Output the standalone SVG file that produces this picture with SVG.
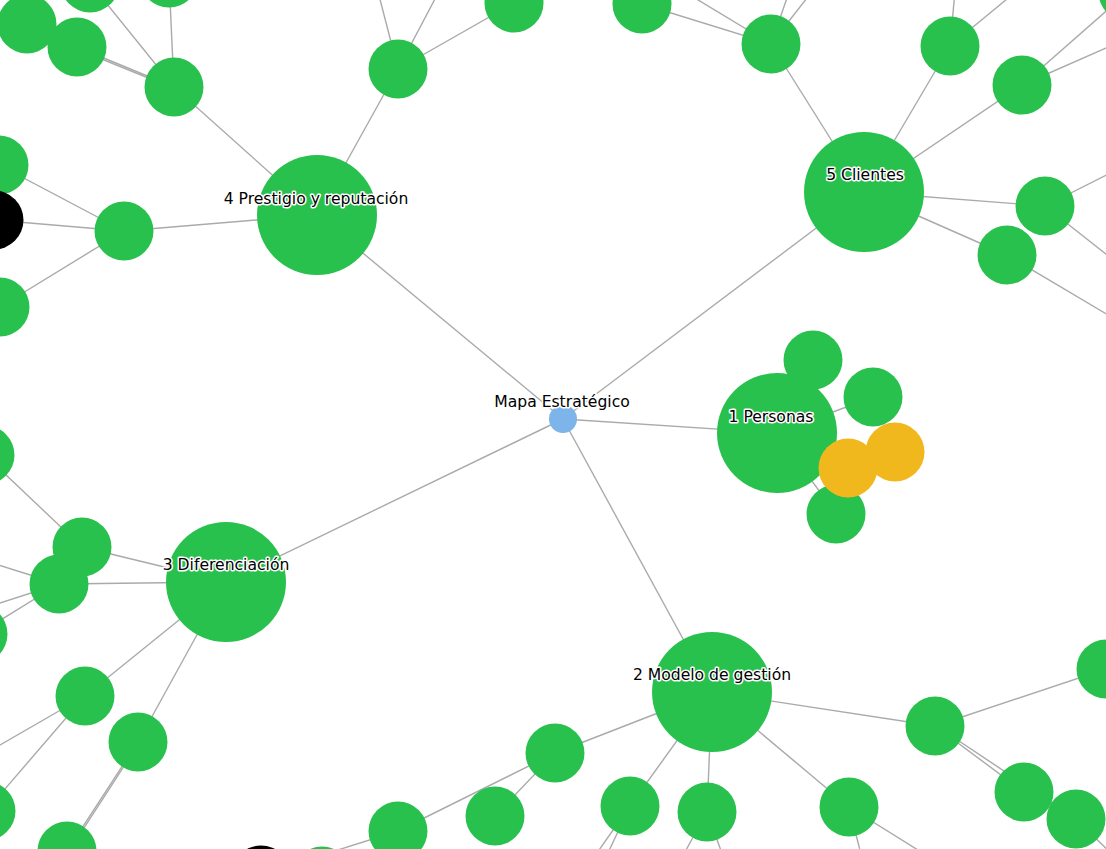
<svg xmlns="http://www.w3.org/2000/svg" width="1106" height="849" viewBox="0 0 1106 849">
<style>
.l{stroke:#aaa;stroke-width:1.4;fill:none}
.g{fill:#29c14d}
.o{fill:#f0b81c}
.k{fill:#000}
.c{fill:#7db4ea}
.t{font-family:"DejaVu Sans",Verdana,sans-serif;font-size:15.6px;fill:#000;stroke:#fff;stroke-width:3;stroke-linejoin:round;paint-order:stroke;text-anchor:middle}
</style>
<rect width="1106" height="849" fill="#fff"/>
<g id="connectors">
<line class="l" x1="563" y1="419" x2="317" y2="215"/>
<line class="l" x1="563" y1="419" x2="864" y2="192"/>
<line class="l" x1="563" y1="419" x2="777" y2="433"/>
<line class="l" x1="563" y1="419" x2="226" y2="582"/>
<line class="l" x1="563" y1="419" x2="712" y2="692"/>
<line class="l" x1="317" y1="215" x2="174" y2="87"/>
<line class="l" x1="317" y1="215" x2="398" y2="69"/>
<line class="l" x1="317" y1="215" x2="124" y2="231"/>
<line class="l" x1="174" y1="87" x2="169" y2="-22"/>
<line class="l" x1="174" y1="87" x2="90" y2="-17"/>
<line class="l" x1="174" y1="87" x2="77" y2="47"/>
<line class="l" x1="173" y1="88" x2="77" y2="49"/>
<line class="l" x1="398" y1="69" x2="375" y2="-20"/>
<line class="l" x1="398" y1="69" x2="445" y2="-20"/>
<line class="l" x1="398" y1="69" x2="514" y2="3"/>
<line class="l" x1="771" y1="44" x2="642" y2="4"/>
<line class="l" x1="771" y1="44" x2="665" y2="-20"/>
<line class="l" x1="771" y1="44" x2="795" y2="-25"/>
<line class="l" x1="771" y1="44" x2="825" y2="-25"/>
<line class="l" x1="771" y1="44" x2="864" y2="192"/>
<line class="l" x1="950" y1="46" x2="864" y2="192"/>
<line class="l" x1="950" y1="46" x2="956" y2="-20"/>
<line class="l" x1="950" y1="46" x2="1030" y2="-20"/>
<line class="l" x1="1022" y1="85" x2="864" y2="192"/>
<line class="l" x1="1022" y1="85" x2="1128" y2="-8"/>
<line class="l" x1="1022" y1="85" x2="1140" y2="33"/>
<line class="l" x1="1045" y1="206" x2="864" y2="192"/>
<line class="l" x1="1045" y1="206" x2="1140" y2="158"/>
<line class="l" x1="1045" y1="206" x2="1140" y2="281"/>
<line class="l" x1="1007" y1="255" x2="864" y2="192"/>
<line class="l" x1="1007" y1="255" x2="1140" y2="334"/>
<line class="l" x1="777" y1="433" x2="873" y2="397"/>
<line class="l" x1="777" y1="433" x2="836" y2="514"/>
<line class="l" x1="124" y1="231" x2="-1" y2="165"/>
<line class="l" x1="124" y1="231" x2="-6" y2="220"/>
<line class="l" x1="124" y1="231" x2="0" y2="307"/>
<line class="l" x1="-15" y1="455" x2="82" y2="547"/>
<line class="l" x1="226" y1="582" x2="82" y2="547"/>
<line class="l" x1="226" y1="582" x2="59" y2="584"/>
<line class="l" x1="226" y1="582" x2="85" y2="696"/>
<line class="l" x1="226" y1="582" x2="138" y2="742"/>
<line class="l" x1="59" y1="584" x2="-40" y2="553"/>
<line class="l" x1="59" y1="584" x2="-40" y2="616"/>
<line class="l" x1="59" y1="584" x2="-22" y2="634"/>
<line class="l" x1="85" y1="696" x2="-40" y2="768"/>
<line class="l" x1="85" y1="696" x2="-14" y2="811"/>
<line class="l" x1="138" y1="742" x2="67" y2="851"/>
<line class="l" x1="139" y1="743" x2="69" y2="851"/>
<line class="l" x1="712" y1="692" x2="555" y2="753"/>
<line class="l" x1="712" y1="692" x2="630" y2="806"/>
<line class="l" x1="712" y1="692" x2="707" y2="812"/>
<line class="l" x1="712" y1="692" x2="849" y2="807"/>
<line class="l" x1="712" y1="692" x2="935" y2="726"/>
<line class="l" x1="555" y1="753" x2="495" y2="816"/>
<line class="l" x1="555" y1="753" x2="398" y2="831"/>
<line class="l" x1="398" y1="831" x2="322" y2="855"/>
<line class="l" x1="630" y1="806" x2="585" y2="870"/>
<line class="l" x1="630" y1="806" x2="600" y2="870"/>
<line class="l" x1="707" y1="812" x2="675" y2="870"/>
<line class="l" x1="707" y1="812" x2="728" y2="870"/>
<line class="l" x1="849" y1="807" x2="865" y2="870"/>
<line class="l" x1="849" y1="807" x2="950" y2="870"/>
<line class="l" x1="935" y1="726" x2="1106" y2="669"/>
<line class="l" x1="935" y1="726" x2="1024" y2="792"/>
<line class="l" x1="935" y1="725" x2="1076" y2="819"/>
<line class="l" x1="1076" y1="819" x2="1120" y2="862"/>
</g>
<g id="n-a"><circle class="g" cx="27" cy="24" r="29.5"/></g>
<g id="n-b"><circle class="g" cx="77" cy="47" r="29.5"/></g>
<g id="n-c"><circle class="g" cx="90" cy="-17" r="29.5"/></g>
<g id="n-d"><circle class="g" cx="169" cy="-22" r="29.5"/></g>
<g id="n-e"><circle class="g" cx="174" cy="87" r="29.5"/></g>
<g id="n-f"><circle class="g" cx="398" cy="69" r="29.5"/></g>
<g id="n-g"><circle class="g" cx="514" cy="3" r="29.5"/></g>
<g id="n-h"><circle class="g" cx="642" cy="4" r="29.5"/></g>
<g id="n-i"><circle class="g" cx="771" cy="44" r="29.5"/></g>
<g id="n-j"><circle class="g" cx="950" cy="46" r="29.5"/></g>
<g id="n-k"><circle class="g" cx="1022" cy="85" r="29.5"/></g>
<g id="n-corner"><circle class="g" cx="1128" cy="-8" r="29.5"/></g>
<g id="n-l"><circle class="g" cx="1045" cy="206" r="29.5"/></g>
<g id="n-m"><circle class="g" cx="1007" cy="255" r="29.5"/></g>
<g id="n-n"><circle class="g" cx="124" cy="231" r="29.5"/></g>
<g id="n-o1"><circle class="g" cx="-1" cy="165" r="29.5"/></g>
<g id="n-black1"><circle class="k" cx="-6" cy="220" r="29.5"/></g>
<g id="n-o2"><circle class="g" cx="0" cy="307" r="29.5"/></g>
<g id="n-o3"><circle class="g" cx="-15" cy="455" r="29.5"/></g>
<g id="n-q1"><circle class="g" cx="82" cy="547" r="29.5"/></g>
<g id="n-q2"><circle class="g" cx="59" cy="584" r="29.5"/></g>
<g id="n-q3"><circle class="g" cx="-22" cy="634" r="29.5"/></g>
<g id="n-r1"><circle class="g" cx="85" cy="696" r="29.5"/></g>
<g id="n-r2"><circle class="g" cx="138" cy="742" r="29.5"/></g>
<g id="n-s1"><circle class="g" cx="67" cy="851" r="29.5"/></g>
<g id="n-s2"><circle class="g" cx="-14" cy="811" r="29.5"/></g>
<g id="n-black2"><circle class="k" cx="261" cy="875" r="29.5"/></g>
<g id="n-t0"><circle class="g" cx="322" cy="876" r="29.5"/></g>
<g id="n-t1"><circle class="g" cx="398" cy="831" r="29.5"/></g>
<g id="n-u1"><circle class="g" cx="555" cy="753" r="29.5"/></g>
<g id="n-u2"><circle class="g" cx="495" cy="816" r="29.5"/></g>
<g id="n-v1"><circle class="g" cx="630" cy="806" r="29.5"/></g>
<g id="n-v2"><circle class="g" cx="707" cy="812" r="29.5"/></g>
<g id="n-x1"><circle class="g" cx="849" cy="807" r="29.5"/></g>
<g id="n-w1"><circle class="g" cx="935" cy="726" r="29.5"/></g>
<g id="n-w2"><circle class="g" cx="1106" cy="669" r="29.5"/></g>
<g id="n-w3"><circle class="g" cx="1024" cy="792" r="29.5"/></g>
<g id="n-w4"><circle class="g" cx="1076" cy="819" r="29.5"/></g>
<g id="n-p1"><circle class="g" cx="813" cy="360" r="29.5"/></g>
<g id="n-personas"><circle class="g" cx="777" cy="433" r="60"/></g>
<g id="n-p2"><circle class="g" cx="873" cy="397" r="29.5"/></g>
<g id="n-p3"><circle class="g" cx="836" cy="514" r="29.5"/></g>
<g id="n-y2"><circle class="o" cx="895" cy="452" r="29.5"/></g>
<g id="n-y1"><circle class="o" cx="848" cy="468" r="29.5"/></g>
<g id="n-prestigio"><circle class="g" cx="317" cy="215" r="60"/></g>
<g id="n-clientes"><circle class="g" cx="864" cy="192" r="60"/></g>
<g id="n-diferenciacion"><circle class="g" cx="226" cy="582" r="60"/></g>
<g id="n-modelo"><circle class="g" cx="712" cy="692" r="60"/></g>
<g id="n-mapa"><circle class="c" cx="563" cy="419" r="14"/></g>
<g id="labels">
<text class="t" x="562" y="407">Mapa Estratégico</text>
<text class="t" x="316" y="204">4 Prestigio y reputación</text>
<text class="t" x="865" y="180">5 Clientes</text>
<text class="t" x="771" y="422">1 Personas</text>
<text class="t" x="226" y="570">3 Diferenciación</text>
<text class="t" x="712" y="680">2 Modelo de gestión</text>
</g>
</svg>
